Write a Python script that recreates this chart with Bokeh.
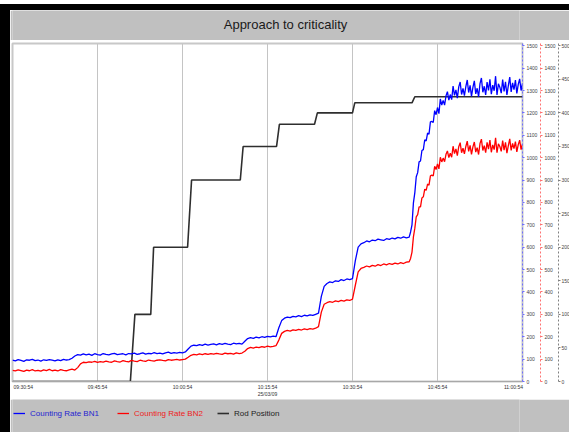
import numpy as np
from bokeh.plotting import figure
from bokeh.models import Range1d, LinearAxis, FixedTicker, Legend, LegendItem, Div, Label
from bokeh.layouts import row, column
from bokeh.embed import file_html
from bokeh.resources import INLINE

# ---- data -------------------------------------------------------------
# time in minutes after 09:30:54 (25/03/09)
tick_minutes = [0, 15, 30, 45, 60, 75, 90]
tick_labels = ["09:30:54", "09:45:54", "10:00:54", "10:15:54\n25/03/09",
               "10:30:54", "10:45:54", "11:00:54"]

# counting rates sampled every 0.5 min up to 70 min, then every 0.25 min
t_early = np.arange(0, 70, 0.5)
t_late = np.arange(70, 90.001, 0.25)

bn1_early = [
    96, 92, 98, 94, 90, 97, 95, 99, 93, 96, 91, 97, 94, 98, 95, 92, 97, 93, 99, 96, 98,
    104, 114, 120,
    118, 123, 119, 122, 117, 124, 120, 118, 125, 121, 119, 123, 126, 120, 122, 124, 119, 125, 123,
    127, 121, 124, 128, 122, 126, 124, 129, 125, 127, 123, 128, 131, 126, 129, 127, 130, 128, 132,
    145, 158, 162, 160, 165, 161, 167, 163, 166, 168, 164, 169, 166, 170, 167, 165, 171, 168, 170, 167,
    180, 192, 196, 193, 198, 195, 200, 197, 202, 199, 203, 200,
    240, 272, 283, 288, 285, 291, 289, 294, 290, 296, 293, 298, 295, 300,
    305, 380, 425, 438, 445, 442, 450, 447, 455, 451, 458, 455,
    460, 540, 600, 615, 620, 628, 624, 632, 629, 636, 633, 630, 638, 635, 641, 637, 644, 640, 646, 642,
]
bn1_late = [
    645, 668, 700, 798, 844, 915, 933, 981, 985, 1032, 1036, 1080, 1075, 1110, 1105, 1160,
    1162, 1157, 1210, 1192, 1224, 1197, 1262, 1235, 1256, 1235, 1276, 1295, 1257, 1282, 1259, 1320,
    1278, 1303, 1266, 1316, 1338, 1282, 1309, 1277, 1317, 1347, 1291, 1323, 1274, 1314, 1343, 1285,
    1310, 1271, 1331, 1356, 1292, 1319, 1280, 1338, 1300, 1350, 1284, 1324, 1299, 1364, 1280, 1330,
    1315, 1288, 1349, 1296, 1339, 1280, 1322, 1360, 1294, 1334, 1304, 1347, 1287, 1327, 1352, 1300,
    1332,
]

bn2_early = [
    50, 47, 52, 49, 45, 51, 48, 53, 47, 50, 46, 52, 49, 54, 48, 51, 47, 53, 50, 48, 52, 55, 51,
    62, 79, 86,
    84, 88, 86, 90, 85, 89, 87, 91, 88, 86, 92, 89, 87, 93, 90, 88, 94, 91, 89, 95,
    92, 90, 96, 93, 91, 95, 97, 94, 92, 98, 95, 97, 99, 96, 98, 100,
    108, 117, 121, 119, 123, 120, 124, 121, 125, 122, 126, 123, 121, 127, 124, 126, 122, 128, 125, 127,
    135, 147, 152, 149, 154, 151, 156, 153, 158, 155, 157, 160,
    185, 215, 224, 228, 225, 231, 228, 233, 230, 235, 232, 236, 234, 238,
    245, 310, 345, 352, 357, 354, 360, 357, 362, 359, 365, 362,
    368, 430, 490, 505, 510, 516, 512, 519, 515, 522, 518, 525, 521, 527, 523, 529, 525, 531, 527, 533,
]
bn2_late = [
    535, 550, 578, 646, 685, 736, 745, 780, 780, 820, 825, 859, 854, 882, 877, 919,
    922, 918, 961, 947, 972, 950, 1002, 981, 998, 982, 1015, 1030, 1000, 1020, 1002, 1051,
    1018, 1039, 1009, 1049, 1067, 1022, 1042, 1017, 1050, 1074, 1028, 1055, 1015, 1048, 1070, 1025,
    1045, 1014, 1063, 1083, 1032, 1054, 1022, 1068, 1038, 1078, 1024, 1057, 1036, 1089, 1022, 1062,
    1050, 1028, 1076, 1034, 1068, 1020, 1054, 1084, 1032, 1064, 1040, 1072, 1026, 1058, 1078, 1036,
    1062,
]

# rod position (0-500 scale), stepwise withdrawal
rod_t = [0, 20.8, 21.6, 24.4, 24.9, 30.9, 31.6, 40.2, 40.7, 46.6, 47.1,
         53.3, 53.8, 60.0, 60.4, 70.5, 71.0, 90]
rod_pos = [0, 0, 100, 100, 200, 200, 300, 300, 350, 350, 383,
           383, 400, 400, 415, 415, 424, 424]

count_ticks = list(range(0, 1501, 100))
rod_ticks = list(range(0, 501, 50))

t_counts = np.concatenate([t_early, t_late])
bn1 = np.array(bn1_early + bn1_late)
bn2 = np.array(bn2_early + bn2_late)

BAND = "#c0c0c0"
FONT = "Liberation Sans"
WIDTH = 559

# ---- title band -----------------------------------------------------------
tf = figure(width=WIDTH, height=30, output_backend="svg", toolbar_location=None,
            x_range=Range1d(0, 1), y_range=Range1d(0, 1),
            x_axis_location=None, y_axis_location=None, min_border=0,
            background_fill_color=BAND, border_fill_color=BAND,
            outline_line_color=None)
tf.grid.visible = False
tf.add_layout(Label(x=273, y=16, x_units="screen", y_units="screen",
                    text="Approach to criticality", text_align="center",
                    text_baseline="middle", text_font=FONT,
                    text_font_size="13px", text_color="#1a1a1a"))

# ---- main chart ---------------------------------------------------------
Y_TOP = 1510
p = figure(frame_width=510, frame_height=338, output_backend="svg", toolbar_location=None,
           x_range=Range1d(0, 90), y_range=Range1d(0, Y_TOP),
           y_axis_location=None,
           min_border_left=2, min_border_right=0,
           min_border_top=3, min_border_bottom=16,
           border_fill_color="white", background_fill_color="white",
           outline_line_color="#c8c8c8", outline_line_width=2)
p.extra_y_ranges = {"rod": Range1d(0, Y_TOP / 3)}

# bottom time axis; the outermost labels sit just inside the frame
label_pos = list(tick_minutes)
label_pos[0] = 1.9
label_pos[-1] = 88.4
xa = p.xaxis[0]
xa.ticker = FixedTicker(ticks=label_pos)
xa.major_label_overrides = {pos: lab for pos, lab in zip(label_pos, tick_labels)}
xa.major_label_text_font = FONT
xa.major_label_text_font_size = "5px"
xa.major_label_text_color = "#333333"
xa.major_label_standoff = 2
xa.major_tick_out = 0
xa.major_tick_in = 0
xa.axis_line_color = "#a8a8a8"
xa.major_tick_line_color = None
xa.minor_tick_line_color = None

p.xgrid.ticker = FixedTicker(ticks=tick_minutes[1:-1])
p.xgrid.grid_line_color = "#c4c4c4"
p.xgrid.grid_line_width = 1
p.ygrid.visible = False


def right_axis(color, range_name, ticks, standoff):
    ax = LinearAxis(y_range_name=range_name, ticker=FixedTicker(ticks=ticks))
    ax.axis_line_color = color
    ax.axis_line_dash = "2 2"
    ax.axis_line_width = 1
    ax.major_tick_line_color = color
    ax.major_tick_out = 2
    ax.major_tick_in = 0
    ax.minor_tick_line_color = None
    ax.major_label_text_font = FONT
    ax.major_label_text_font_size = "5px"
    ax.major_label_text_color = "#444444"
    ax.major_label_standoff = standoff
    return ax


p.add_layout(right_axis("#6f6fff", "default", count_ticks, 2), "right")
p.add_layout(right_axis("#ff7070", "default", count_ticks, 2), "right")
p.add_layout(right_axis("#808080", "rod", rod_ticks, 1), "right")

rod_style = dict(line_color="#2e2e2e", line_width=1.6)
bn2_style = dict(line_color="#ff0000", line_width=1.3)
bn1_style = dict(line_color="#0000ff", line_width=1.3)

p.line(rod_t, rod_pos, y_range_name="rod", **rod_style)
p.line(t_counts, bn2, **bn2_style)
p.line(t_counts, bn1, **bn1_style)

# ---- legend band ----------------------------------------------------------
lf = figure(width=WIDTH, height=35, output_backend="svg", toolbar_location=None,
            x_range=Range1d(0, 90), y_range=Range1d(0, Y_TOP),
            x_axis_location=None, y_axis_location=None, min_border=0,
            background_fill_color=BAND, border_fill_color=BAND,
            outline_line_color=None)
lf.grid.visible = False
lf.extra_y_ranges = {"rod": Range1d(0, Y_TOP / 3)}
k_bn1 = lf.line(t_counts, bn1, visible=False, **bn1_style)
k_bn2 = lf.line(t_counts, bn2, visible=False, **bn2_style)
k_rod = lf.line(rod_t, rod_pos, y_range_name="rod", visible=False, **rod_style)

for rend, label, color, xpos in [(k_bn1, "Counting Rate BN1", "#1f1fd0", -1),
                                  (k_bn2, "Counting Rate BN2", "#ee1c1c", 103),
                                  (k_rod, "Rod Position", "#222222", 203)]:
    lg = Legend(items=[LegendItem(label=label, renderers=[rend])],
                location=(xpos, 14), orientation="horizontal",
                label_text_font=FONT, label_text_font_size="8px",
                label_text_color=color, glyph_width=12, glyph_height=10,
                label_standoff=5, padding=2, spacing=0, margin=0,
                inactive_fill_alpha=0,
                background_fill_alpha=0, border_line_alpha=0)
    lf.add_layout(lg, "center")

# ---- dark frame along the top and left edge ----------------------------
left_bar = Div(width=10, height=432, margin=0,
               styles={"background": "linear-gradient(#ffffff 0 4px, #000000 4px)"})
top_bar = Div(width=WIDTH, height=10, margin=0,
              styles={"background": "linear-gradient(#ffffff 0 4px, #000000 4px)"})

layout = row(left_bar, column(top_bar, tf, p, lf, spacing=0), spacing=0)

open("out.html", "w").write(file_html(layout, INLINE))
